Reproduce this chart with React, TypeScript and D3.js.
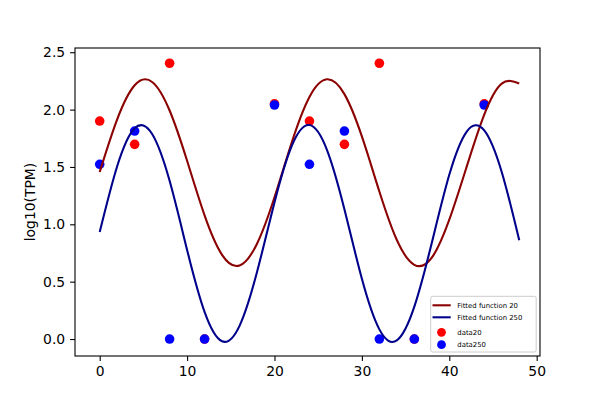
import { useEffect, useRef } from 'react'
import * as d3 from 'd3'

const curveX = [0, 2, 4, 6, 8, 10, 12, 14, 16, 18, 20, 22, 24, 26, 28, 30, 32, 34, 36, 38, 40, 42, 44, 46, 48]
const fit20 = [1.456, 1.915, 2.212, 2.241, 1.992, 1.554, 1.078, 0.734, 0.641, 0.831, 1.236, 1.72, 2.11, 2.264, 2.135, 1.766, 1.286, 0.863, 0.647, 0.709, 1.04, 1.505, 1.957, 2.227, 2.228]
const fit250 = [0.932, 1.506, 1.837, 1.787, 1.379, 0.777, 0.236, -0.02, 0.115, 0.584, 1.191, 1.688, 1.865, 1.649, 1.131, 0.525, 0.084, -0.012, 0.282, 0.839, 1.432, 1.809, 1.819, 1.456, 0.862]

// measured points
const dataX = [0, 4, 8, 12, 20, 24, 28, 32, 36, 44]
const data20 = [1.9, 1.697, 2.404, 0, 2.05, 1.9, 1.697, 2.404, 0, 2.05]
const data250 = [1.523, 1.813, 0, 0, 2.04, 1.523, 1.813, 0, 0, 2.04]

const xTicks = [0, 10, 20, 30, 40, 50]
const yTicks = [0, 0.5, 1.0, 1.5, 2.0, 2.5]

const W = 600
const H = 400
const BOX = { left: 75, right: 540, top: 48, bottom: 356 }
const FONT = 'DejaVu Sans, sans-serif'

export default function App() {
  const svgRef = useRef<SVGSVGElement>(null)

  useEffect(() => {
    const svg = d3.select(svgRef.current)
    svg.selectAll('*').remove()

    const x = d3.scaleLinear().domain([-2.826, 50.38]).range([BOX.left, BOX.right])
    const y = d3.scaleLinear().domain([-0.148, 2.537]).range([BOX.bottom, BOX.top])

    svg.append('rect').attr('width', W).attr('height', H).attr('fill', '#fff')

    // scatter first, lines on top (matplotlib zorder)
    const pts = (vals: number[], color: string) => {
      svg.append('g')
        .selectAll('circle')
        .data(dataX.map((d, i) => [d, vals[i]] as [number, number]))
        .join('circle')
        .attr('cx', d => x(d[0]))
        .attr('cy', d => y(d[1]))
        .attr('r', 4.8)
        .attr('fill', color)
    }
    pts(data20, '#ff0000')
    pts(data250, '#0000ff')

    const line = d3.line<[number, number]>()
      .x(d => x(d[0]))
      .y(d => y(d[1]))
      .curve(d3.curveNatural)

    const curve = (vals: number[], color: string) => {
      svg.append('path')
        .datum(curveX.map((d, i) => [d, vals[i]] as [number, number]))
        .attr('fill', 'none')
        .attr('stroke', color)
        .attr('stroke-width', 2.08)
        .attr('d', line)
    }
    curve(fit20, '#8b0000')
    curve(fit250, '#00008b')

    // frame
    svg.append('rect')
      .attr('x', BOX.left)
      .attr('y', BOX.top)
      .attr('width', BOX.right - BOX.left)
      .attr('height', BOX.bottom - BOX.top)
      .attr('fill', 'none')
      .attr('stroke', '#000')
      .attr('stroke-width', 1.1)

    // axes
    svg.append('g')
      .attr('transform', `translate(0,${BOX.bottom})`)
      .call(d3.axisBottom(x).tickValues(xTicks).tickFormat(d3.format('d')).tickSize(4.9).tickPadding(4.9))
      .call(sel => sel.select('.domain').remove())
      .call(sel => sel.selectAll('line').attr('stroke', '#000').attr('stroke-width', 1.1))
      .call(sel => sel.selectAll('text').attr('fill', '#000').style('font-size', '13.9px').style('font-family', FONT))

    svg.append('g')
      .attr('transform', `translate(${BOX.left},0)`)
      .call(d3.axisLeft(y).tickValues(yTicks).tickFormat(d3.format('.1f')).tickSize(4.9).tickPadding(4.9))
      .call(sel => sel.select('.domain').remove())
      .call(sel => sel.selectAll('line').attr('stroke', '#000').attr('stroke-width', 1.1))
      .call(sel => sel.selectAll('text').attr('fill', '#000').style('font-size', '13.9px').style('font-family', FONT))

    svg.append('text')
      .attr('transform', `translate(35,${(BOX.top + BOX.bottom) / 2}) rotate(-90)`)
      .attr('text-anchor', 'middle')
      .style('font-size', '13.9px')
      .style('font-family', FONT)
      .text('log10(TPM)')

    // legend
    const lg = svg.append('g')
    lg.append('rect')
      .attr('x', 430.7)
      .attr('y', 296.3)
      .attr('width', 105.5)
      .attr('height', 55.7)
      .attr('rx', 2)
      .attr('fill', 'rgba(255,255,255,0.8)')
      .attr('stroke', '#cccccc')
      .attr('stroke-width', 1)

    const entries = [
      { label: 'Fitted function 20', kind: 'line', color: '#8b0000', cy: 305.3 },
      { label: 'Fitted function 250', kind: 'line', color: '#00008b', cy: 317.3 },
      { label: 'data20', kind: 'dot', color: '#ff0000', cy: 332.3 },
      { label: 'data250', kind: 'dot', color: '#0000ff', cy: 344.7 },
    ]
    entries.forEach(e => {
      if (e.kind === 'line') {
        lg.append('line')
          .attr('x1', 432.5).attr('x2', 450.7)
          .attr('y1', e.cy).attr('y2', e.cy)
          .attr('stroke', e.color)
          .attr('stroke-width', 2.08)
      } else {
        lg.append('circle')
          .attr('cx', 441.5).attr('cy', e.cy)
          .attr('r', 4.4)
          .attr('fill', e.color)
      }
      lg.append('text')
        .attr('x', 457.3)
        .attr('y', e.cy)
        .attr('dy', '0.35em')
        .style('font-size', '6.9px')
        .style('font-family', FONT)
        .text(e.label)
    })
  }, [])

  return (
    <svg
      ref={svgRef}
      width={W}
      height={H}
      style={{ position: 'absolute', left: 0, top: 0 }}
    />
  )
}
